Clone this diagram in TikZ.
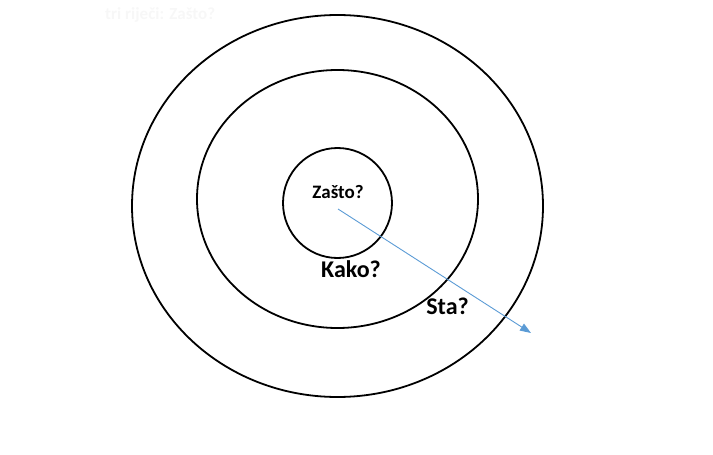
\documentclass[tikz,border=0pt]{standalone}
\usepackage{fontspec}
\setmainfont{Carlito}
\definecolor{arrowblue}{RGB}{91,155,213}
\definecolor{faintgray}{RGB}{247,247,247}
\usetikzlibrary{arrows.meta,shapes.geometric}

\begin{document}
\begin{tikzpicture}[
  x=1pt,y=-1pt,
  ring/.style={draw,ellipse,line width=1.8pt,inner sep=0pt},
  lbl/.style={font=\bfseries,inner sep=0pt},
  arr/.style={-{Triangle[length=11pt,width=8pt]},arrowblue,line width=0.9pt}
]
  \useasboundingbox (0,0) rectangle (713,455);

  % Rings
  \node[ring,minimum width=411pt,minimum height=382pt] (outer) at (337.5,206) {};
  \node[ring,minimum width=281pt,minimum height=258pt] (middle) at (337.5,199) {};
  \node[ring,minimum width=109pt,minimum height=110pt] (inner) at (337.5,203) {};

  % Labels
  \node[lbl,font=\bfseries\fontsize{19}{22}\selectfont] (zasto) at (338,192) {Zašto?};
  \node[lbl,font=\bfseries\fontsize{24}{28}\selectfont] (kako) at (351,269) {Kako?};
  \node[lbl,font=\bfseries\fontsize{24}{28}\selectfont] (sta) at (447.5,306) {Sta?};

  % Faint heading
  \node[lbl,font=\bfseries\fontsize{17}{20}\selectfont,text=faintgray,anchor=west] (head) at (105,15) {tri riječi: Zašto?};

  % Arrow
  \coordinate (start) at (338,209);
  \coordinate (end) at (531,333);
  \draw[arr] (start) -- (end);
\end{tikzpicture}
\end{document}
